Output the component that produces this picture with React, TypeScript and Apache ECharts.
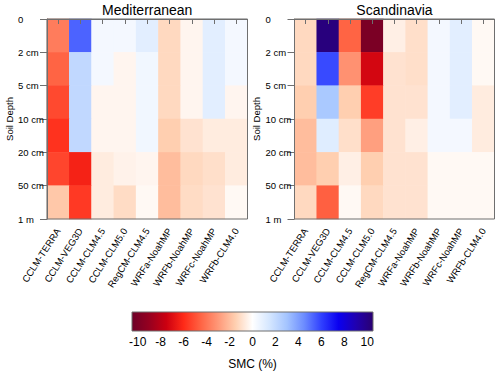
import React, { useEffect, useRef } from "react";
import * as echarts from "echarts";

// ---- data ----
const MODELS = [
  "CCLM-TERRA",
  "CCLM-VEG3D",
  "CCLM-CLM4.5",
  "CCLM-CLM5.0",
  "RegCM-CLM4.5",
  "WRFa-NoahMP",
  "WRFb-NoahMP",
  "WRFc-NoahMP",
  "WRFb-CLM4.0",
];
const LAYERS = ["0-2 cm", "2-5 cm", "5-10 cm", "10-20 cm", "20-50 cm", "50 cm-1 m"];
const DEPTH_LABELS = ["0", "2 cm", "5 cm", "10 cm", "20 cm", "50 cm", "1 m"];
const REGIONS = ["Mediterranean", "Scandinavia"];

// SMC change (%) per layer, columns follow MODELS
const MED_0_2 = [-3.8, 5.3, 0.4, 0.4, 1.0, -1.2, -0.3, 1.0, 0.4];
const MED_2_5 = [-4.5, 2.1, 0.4, -0.3, 0.5, -1.2, -0.3, 1.0, 0.4];
const MED_5_10 = [-5.2, 2.1, -0.3, -0.3, 0.5, -1.2, -0.3, 1.0, -0.3];
const MED_10_20 = [-5.8, 2.1, -0.3, -0.3, 0.5, -1.5, -0.9, -0.6, -0.6];
const MED_20_50 = [-5.3, -6.3, -0.6, -0.4, -0.3, -2.0, -1.2, -1.0, -0.6];
const MED_50_100 = [-1.7, -5.6, -0.6, -1.1, -0.2, -2.0, -1.1, -0.9, -0.2];

const SCA_0_2 = [-1.2, 10.2, -4.5, -10.0, -0.5, -1.0, 0.4, 1.0, -0.2];
const SCA_2_5 = [-1.2, 5.8, -3.2, -7.3, -0.9, -1.0, 0.4, 1.0, -0.2];
const SCA_5_10 = [-1.5, 2.8, -1.5, -5.5, -0.9, -0.9, 0.4, 1.0, -0.6];
const SCA_10_20 = [-2.0, 1.1, -1.0, -2.8, -0.9, -0.5, 0.4, 0.4, -0.6];
const SCA_20_50 = [-2.0, -1.5, -0.5, -1.5, -0.9, -0.9, -0.2, -0.2, -0.2];
const SCA_50_100 = [-1.2, -4.6, -0.2, -1.2, -0.9, -0.9, -0.2, -0.2, -0.2];

const MED_ROWS = [MED_0_2, MED_2_5, MED_5_10, MED_10_20, MED_20_50, MED_50_100];
const SCA_ROWS = [SCA_0_2, SCA_2_5, SCA_5_10, SCA_10_20, SCA_20_50, SCA_50_100];

// colour-bar steps (SMC %) and the labelled ones
const CB_STEPS = [-10, -9, -8, -7, -6, -5, -4, -3, -2, -1, 0, 1, 2, 3, 4, 5, 6, 7, 8, 9, 10];
const CB_TICKS = [-10, -8, -6, -4, -2, 0, 2, 4, 6, 8, 10];
const CB_MIN = -10.5;
const CB_MAX = 10.5;

// colour scale, evenly spaced over CB_MIN..CB_MAX
const PALETTE = [
  "#6e0028",
  "#960020",
  "#cc0010",
  "#ff2a18",
  "#ff6444",
  "#ff9878",
  "#ffcfb0",
  "#ffffff",
  "#d4e6ff",
  "#a4c4ff",
  "#6c8cff",
  "#3040ff",
  "#0a00f0",
  "#2000b0",
  "#2a0070",
];

const FONT = "Liberation Sans, Arial, Helvetica, sans-serif";
const FRAME = "#6f6f6f";

const toCells = (rows: number[][]) =>
  rows.flatMap((row, y) => row.map((v, x) => [x, y, v]));

export default function App() {
  const ref = useRef<HTMLDivElement>(null);

  useEffect(() => {
    if (!ref.current) return;
    const chart = echarts.init(ref.current, undefined, { renderer: "svg" });

    const grids = [
      { left: 47, top: 19, width: 200.5, height: 200 },
      { left: 294.5, top: 19, width: 200, height: 200 },
    ];

    const xAxes: any[] = grids.map((_, i) => ({
      gridIndex: i,
      type: "category",
      data: MODELS,
      position: "bottom",
      z: 10,
      axisLine: { show: true, lineStyle: { color: FRAME, width: 1 } },
      axisTick: { show: true, alignWithLabel: true, length: 5, lineStyle: { color: FRAME } },
      axisLabel: {
        interval: 0,
        rotate: 57,
        fontSize: 9.5,
        margin: 10,
        color: "#000",
        fontFamily: FONT,
      },
      splitLine: { show: false },
    }));
    xAxes.push({
      gridIndex: 2,
      type: "category",
      data: CB_STEPS.map(String),
      boundaryGap: true,
      axisLine: { show: false },
      axisTick: { show: false },
      splitLine: { show: false },
      axisLabel: { show: false },
      name: "SMC (%)",
      nameLocation: "middle",
      nameGap: 27,
      nameTextStyle: { fontSize: 12, color: "#000", fontFamily: FONT },
    });

    const yAxes: any[] = [];
    grids.forEach((_, i) => {
      yAxes.push({
        gridIndex: i,
        type: "category",
        data: LAYERS,
        inverse: true,
        show: false,
      });
      yAxes.push({
        gridIndex: i,
        type: "value",
        min: 0,
        max: DEPTH_LABELS.length - 1,
        interval: 1,
        inverse: true,
        position: "left",
        z: 10,
        axisLine: { show: true, lineStyle: { color: FRAME, width: 1 } },
        axisTick: { show: true, length: 7, lineStyle: { color: FRAME } },
        splitLine: { show: false },
        axisLabel: {
          formatter: (v: number) => DEPTH_LABELS[Math.round(v)] ?? "",
          align: "left",
          margin: 29,
          fontSize: 9.5,
          color: "#000",
          fontFamily: FONT,
          showMinLabel: true,
          showMaxLabel: true,
        },
        name: "Soil Depth",
        nameLocation: "middle",
        nameGap: 33,
        nameTextStyle: { fontSize: 9.5, color: "#000", fontFamily: FONT },
      });
    });
    yAxes.push({ gridIndex: 2, type: "value", min: 0, max: 1, show: false });

    const heatSeries = [MED_ROWS, SCA_ROWS].map((rows, i) => ({
      type: "heatmap",
      xAxisIndex: i,
      yAxisIndex: i * 2,
      data: toCells(rows),
      itemStyle: { borderWidth: 0 },
      emphasis: { disabled: true },
      silent: true,
      z: 2,
    }));

    const option: any = {
      animation: false,
      textStyle: { fontFamily: FONT },
      grid: [
        ...grids.map((g) => ({
          ...g,
          show: true,
          z: 5,
          backgroundColor: "transparent",
          borderColor: FRAME,
          borderWidth: 1,
        })),
        { left: 132, top: 312, width: 241, height: 19, show: false },
      ],
      graphic: REGIONS.map((name, i) => ({
        type: "text",
        x: grids[i].left + grids[i].width / 2,
        y: 10,
        style: {
          text: name,
          fontSize: 14,
          fontFamily: FONT,
          fill: "#000",
          align: "center",
          verticalAlign: "middle",
          textAlign: "center",
          textVerticalAlign: "middle",
        },
      })),
      xAxis: xAxes,
      yAxis: yAxes,
      visualMap: {
        type: "continuous",
        show: false,
        min: CB_MIN,
        max: CB_MAX,
        dimension: 2,
        seriesIndex: [0, 1],
        inRange: { color: PALETTE },
      },
      series: [
        ...heatSeries,
        {
          type: "custom",
          xAxisIndex: 2,
          yAxisIndex: 4,
          silent: true,
          clip: false,
          z: 3,
          data: [[0, 1, CB_STEPS.length - 1]],
          renderItem: (_params: any, api: any) => {
            const bw = api.size([1, 0])[0];
            const p0 = api.coord([api.value(0), 1]);
            const p1 = api.coord([api.value(2), 0]);
            const x0 = p0[0] - bw / 2;
            const x1 = p1[0] + bw / 2;
            return {
              type: "rect",
              shape: { x: x0, y: p0[1], width: x1 - x0, height: p1[1] - p0[1] },
              style: {
                fill: new echarts.graphic.LinearGradient(
                  0,
                  0,
                  1,
                  0,
                  PALETTE.map((c, k) => ({ offset: k / (PALETTE.length - 1), color: c }))
                ),
                stroke: FRAME,
                lineWidth: 1,
              },
            };
          },
        },
        {
          type: "custom",
          xAxisIndex: 2,
          yAxisIndex: 4,
          silent: true,
          clip: false,
          z: 20,
          data: CB_TICKS.map((t) => [CB_STEPS.indexOf(t), 0, t]),
          renderItem: (_params: any, api: any) => {
            const p = api.coord([api.value(0), 0]);
            const t = api.value(2);
            return {
              type: "text",
              x: p[0],
              y: p[1] + 11,
              style: {
                text: t < 0 ? "-" + Math.abs(t) : String(t),
                font: "12px 'Liberation Sans', Arial, sans-serif",
                fill: "#000",
                align: "center",
                verticalAlign: "middle",
                textAlign: "center",
                textVerticalAlign: "middle",
              },
            };
          },
        },
      ],
    };

    chart.setOption(option);
    return () => chart.dispose();
  }, []);

  return (
    <div
      ref={ref}
      style={{ position: "fixed", left: 0, top: 0, width: 500, height: 371, background: "#fff" }}
    />
  );
}
